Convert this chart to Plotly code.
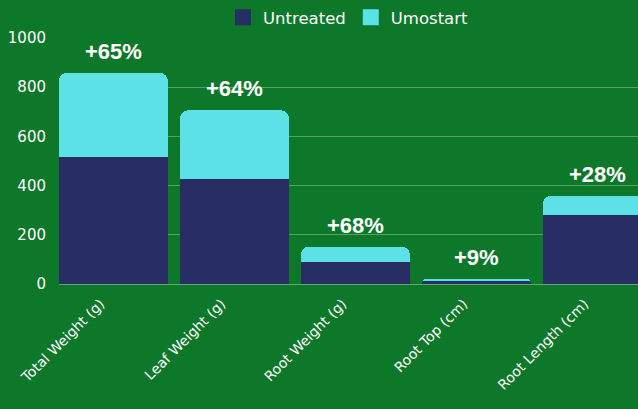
import plotly.graph_objects as go

categories = ["Total Weight (g)", "Leaf Weight (g)", "Root Weight (g)", "Root Top (cm)", "Root Length (cm)"]
untreated = [517, 427, 89, 12, 280]
umostart_gain = [341, 279, 63, 10, 78]
labels = ["+65%", "+64%", "+68%", "+9%", "+28%"]

BG = "#0e782a"
NAVY = "#282d64"
CYAN = "#5ce1e6"
FONT = "DejaVu Sans"

x = list(range(len(categories)))
fig = go.Figure()
fig.add_trace(go.Bar(x=x, y=untreated, name="Untreated", marker=dict(color=NAVY, line=dict(width=0)), showlegend=False))
fig.add_trace(go.Bar(x=x, y=umostart_gain, name="Umostart", marker=dict(color=CYAN, line=dict(width=0)), showlegend=False))
# legend proxies with larger square swatches
fig.add_trace(go.Scatter(x=[None], y=[None], mode="markers", name="Untreated",
                         marker=dict(symbol="square", size=19, color=NAVY)))
fig.add_trace(go.Scatter(x=[None], y=[None], mode="markers", name="Umostart",
                         marker=dict(symbol="square", size=19, color=CYAN)))

for i, lab in enumerate(labels):
    fig.add_annotation(x=x[i], y=untreated[i] + umostart_gain[i], text=lab, showarrow=False,
                       yanchor="bottom", yshift=7,
                       font=dict(family="Liberation Sans", size=22, color="white", weight="bold"))

fig.update_layout(
    width=638, height=409,
    barmode="stack", bargap=0.1, barcornerradius=8,
    paper_bgcolor=BG, plot_bgcolor=BG,
    margin=dict(l=59, r=0, t=38, b=125, autoexpand=False),
    font=dict(family=FONT, color="white", size=14),
    legend=dict(orientation="h", traceorder="normal", x=0.5, xanchor="center",
                y=1.0, yanchor="top", yref="container",
                font=dict(size=16.5, color="white"),
                itemwidth=30, bgcolor="rgba(0,0,0,0)", tracegroupgap=0),
    xaxis=dict(range=[-0.45, 4.335], tickmode="array", tickvals=x, ticktext=categories,
               tickangle=-45, showgrid=False, zeroline=False, ticks="",
               ticklabelshift=-13, ticklabelstandoff=8,
               tickfont=dict(size=14, color="white")),
    yaxis=dict(range=[0, 1000], dtick=200, showgrid=True, gridcolor="rgba(255,255,255,0.3)",
               gridwidth=1, zeroline=True, zerolinecolor="rgba(255,255,255,0.35)", zerolinewidth=1,
               ticks="", ticklabelstandoff=12, tickfont=dict(size=15, color="white")),
)
fig.write_html("out.html")
